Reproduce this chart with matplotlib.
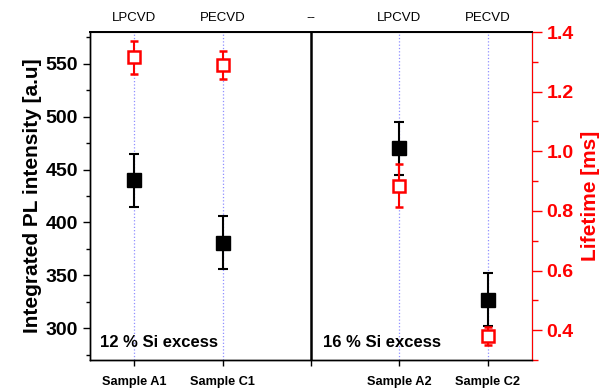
import matplotlib.pyplot as plt
from matplotlib.ticker import MultipleLocator

plt.rcParams.update({
    "font.family": ["Liberation Sans", "DejaVu Sans"],
    "font.size": 10,
    "axes.unicode_minus": False,
})

positions = [1, 2, 4, 5]
sample_labels = ["Sample A1", "Sample C1", "", "Sample A2", "Sample C2"]
method_labels = ["LPCVD", "PECVD", "--", "LPCVD", "PECVD"]

pl_intensity = [440, 381, 470, 327]
pl_error = [25, 25, 25, 25]

lifetime = [1.315, 1.29, 0.885, 0.38]
lifetime_error = [0.055, 0.047, 0.072, 0.03]


def main():
    fig = plt.figure(figsize=(6, 3.88), dpi=100)
    ax = fig.add_axes([0.15, 0.0722, 0.7367, 0.8453])
    ax2 = ax.twinx()

    for p in positions:
        ax.axvline(p, color="#8f8fff", linestyle=":", linewidth=0.9, zorder=0)
    ax.axvline(3, color="black", linewidth=1.8, zorder=1)

    ax.errorbar(positions, pl_intensity, yerr=pl_error, fmt="s", color="black",
                markersize=10, elinewidth=1.5, capsize=3.6, capthick=1.5, zorder=3)
    ax2.errorbar(positions, lifetime, yerr=lifetime_error, fmt="s", color="red",
                 markerfacecolor="white", markeredgecolor="red", markersize=9,
                 markeredgewidth=1.8, elinewidth=1.5, capsize=3, capthick=1.5, zorder=3)

    ax.set_xlim(0.5, 5.5)
    ax.set_ylim(270, 580)
    ax2.set_ylim(0.3, 1.4)

    ax.set_xticks(range(1, 6))
    ax.set_xticklabels(sample_labels, fontsize=9.2, fontweight="bold")
    ax.tick_params(axis="x", direction="out", length=4.5, width=1, pad=7)

    ax.yaxis.set_major_locator(MultipleLocator(50))
    ax.yaxis.set_minor_locator(MultipleLocator(25))
    ax.tick_params(axis="y", which="major", direction="out", length=5, width=1, labelsize=14)
    ax.tick_params(axis="y", which="minor", direction="out", length=3, width=1)
    for lbl in ax.get_yticklabels():
        lbl.set_fontweight("bold")

    ax2.yaxis.set_minor_locator(MultipleLocator(0.1))
    ax2.set_yticks([0.4, 0.6, 0.8, 1.0, 1.2, 1.4])
    ax2.set_yticklabels(["0.4", "0.6", "0.8", "1.0", "1.2", "1.4"], fontweight="bold")
    ax2.tick_params(axis="y", which="major", direction="out", length=7, width=1,
                    colors="red", labelsize=14)
    ax2.tick_params(axis="y", which="minor", direction="out", length=4, width=1, colors="red")

    ax2.spines["right"].set_color("red")
    for a in (ax, ax2):
        a.spines["top"].set_linewidth(1.3)
        a.spines["left"].set_linewidth(1.0)
        a.spines["bottom"].set_linewidth(1.0)

    top = ax.secondary_xaxis("top")
    top.set_xticks(range(1, 6))
    top.set_xticklabels(method_labels, fontsize=9.5)
    top.tick_params(length=0, pad=6)

    ax.set_ylabel("Integrated PL intensity [a.u]", fontsize=15, fontweight="bold", labelpad=3)
    ax2.set_ylabel("Lifetime [ms]", fontsize=15, fontweight="bold", color="red", labelpad=5)

    ax.text(0.61, 0.052, "12 % Si excess", transform=ax.get_xaxis_transform(),
            fontsize=12, fontweight="bold", va="center", ha="left", zorder=5)
    ax.text(3.14, 0.052, "16 % Si excess", transform=ax.get_xaxis_transform(),
            fontsize=12, fontweight="bold", va="center", ha="left", zorder=5)

    fig.savefig("out.png", dpi=100)


if __name__ == "__main__":
    main()
